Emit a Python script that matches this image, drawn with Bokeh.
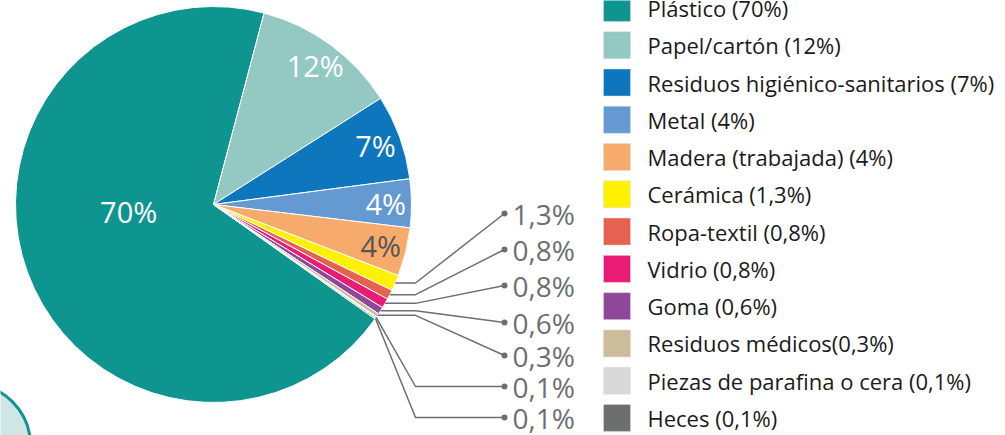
import math
from bokeh.plotting import figure
from bokeh.models import Range1d, ColumnDataSource
from bokeh.embed import file_html
from bokeh.resources import INLINE
from bokeh.core.properties import value

# ---------------- data ----------------
categories = ["Plástico", "Papel/cartón", "Residuos higiénico-sanitarios", "Metal",
              "Madera (trabajada)", "Cerámica", "Ropa-textil", "Vidrio", "Goma",
              "Residuos médicos", "Piezas de parafina o cera", "Heces"]
values = [70, 12, 7, 4, 4, 1.3, 0.8, 0.8, 0.6, 0.3, 0.1, 0.1]
value_labels = ["70%", "12%", "7%", "4%", "4%", "1,3%", "0,8%", "0,8%", "0,6%",
                "0,3%", "0,1%", "0,1%"]
legend_labels = ["Plástico (70%)", "Papel/cartón (12%)",
                 "Residuos higiénico-sanitarios (7%)", "Metal (4%)",
                 "Madera (trabajada) (4%)", "Cerámica (1,3%)", "Ropa-textil (0,8%)",
                 "Vidrio (0,8%)", "Goma (0,6%)", "Residuos médicos(0,3%)",
                 "Piezas de parafina o cera (0,1%)", "Heces (0,1%)"]
colors = ["#0f958f", "#93c8c3", "#0e76bc", "#6499d2", "#f6ab6c", "#fff100",
          "#e5624f", "#e91b74", "#8e4799", "#cbbc9b", "#d9d9d9", "#6d6e6e"]

# ---------------- layout (screen px, y downward) ----------------
W, H = 1005, 435
CX, CY, R = 213, 204, 198
START_DEG = 125.3          # clockwise from 12 o'clock where first slice begins
inner_count = 5            # slices labelled inside
inner_r_frac = [0.43, 0.87, 0.87, 0.87, 0.87]
inner_angle_override = [265, None, None, None, None]
inner_colors = ["white", "white", "white", "white", "#555555"]
callout_label_y = [213, 249, 285, 322, 355, 386, 417]
callout_diag_first = [False, False, False, False, False, True, True]
ELBOW_X, DOT_X, LABEL_X = 415, 504, 512
LEG_SQ_X, LEG_SQ, LEG_TXT_X, LEG_Y0, LEG_DY = 603, 27, 647, 7.5, 37.27

def sy(y):
    return H - y

total = float(sum(values))
starts, ends = [], []
acc = 0.0
for v in values:
    starts.append(START_DEG + 360 * acc / total)
    acc += v
    ends.append(START_DEG + 360 * acc / total)
mids = [(a + b) / 2 for a, b in zip(starts, ends)]

def to_bokeh(theta_deg):
    return math.radians(90 - theta_deg)

def polar(theta_deg, r):
    t = math.radians(theta_deg)
    return CX + r * math.sin(t), CY - r * math.cos(t)

p = figure(width=W, height=H, x_range=Range1d(0, W), y_range=Range1d(0, H),
           output_backend="svg", toolbar_location=None, min_border=0)
p.axis.visible = False
p.grid.visible = False
p.outline_line_color = None
p.background_fill_color = "white"
p.border_fill_color = "white"

# decorative circle bottom-left
p.circle(x=[-32], y=[sy(445)], radius=62, fill_color="#cfe7e4",
         line_color="#129490", line_width=3)

# pie
src = ColumnDataSource(dict(
    start=[to_bokeh(a) for a in starts],
    end=[to_bokeh(b) for b in ends],
    color=colors,
))
p.wedge(x=CX, y=sy(CY), radius=R, start_angle="start", end_angle="end",
        direction="clock", fill_color="color", line_color="white",
        line_width=1, source=src)

# inside labels
ix, iy = [], []
for i in range(inner_count):
    ang = inner_angle_override[i] if inner_angle_override[i] is not None else mids[i]
    x, y = polar(ang, R * inner_r_frac[i])
    ix.append(x)
    iy.append(sy(y))
p.text(x=ix, y=iy, text=value_labels[:inner_count], text_color=inner_colors,
       text_font=value("Open Sans"), text_font_size=value("29px"),
       text_align="center", text_baseline="middle")

# callouts
for k, i in enumerate(range(inner_count, len(values))):
    ex, ey = polar(mids[i], R)
    ly = callout_label_y[k]
    if callout_diag_first[k]:
        ys = [ey, ly, ly]
    else:
        ys = [ey, ey, ly]
    p.line(x=[ex, ELBOW_X, DOT_X], y=[sy(v) for v in ys],
           line_color="#6d6e6e", line_width=1.5)
p.scatter(x=[DOT_X] * len(callout_label_y), y=[sy(v) for v in callout_label_y],
          size=6, marker="circle", fill_color="#6d6e6e", line_color=None)
p.text(x=[LABEL_X] * len(callout_label_y), y=[sy(v) for v in callout_label_y],
       text=value_labels[inner_count:], text_color="#6d6e6e",
       text_font=value("Open Sans"), text_font_size=value("28px"),
       text_align="left", text_baseline="middle")

# legend
ly = [sy(LEG_Y0 + LEG_DY * i) for i in range(len(categories))]
p.rect(x=[LEG_SQ_X + LEG_SQ / 2] * len(categories), y=ly, width=LEG_SQ,
       height=LEG_SQ, fill_color=colors, line_color="#dddddd", line_width=0.5)
p.text(x=[LEG_TXT_X] * len(categories), y=ly, text=legend_labels,
       text_color="#1a1a1a", text_font=value("Open Sans"),
       text_font_size=value("22px"), text_align="left", text_baseline="middle")

open("out.html", "w").write(file_html(p, INLINE))
